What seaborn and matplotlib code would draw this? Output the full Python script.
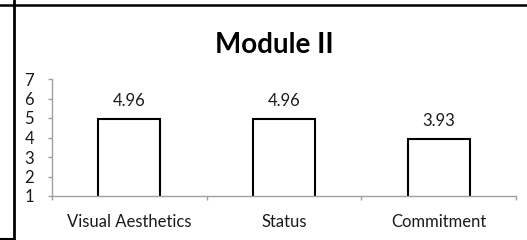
import matplotlib
matplotlib.use("Agg")
import matplotlib.pyplot as plt
import seaborn as sns
import pandas as pd
from matplotlib.lines import Line2D

categories = ["Visual Aesthetics", "Status", "Commitment"]
values = [4.96, 4.96, 3.93]
value_labels = ["4.96", "4.96", "3.93"]
yticks = [1, 2, 3, 4, 5, 6, 7]
title = "Module II"

sns.set_style("white")
plt.rcParams['font.family'] = ['Lato', 'DejaVu Sans']

df = pd.DataFrame({"cat": categories, "val": values})

fig = plt.figure(figsize=(5.27, 2.40), dpi=100)
ax = fig.add_axes([52/527, 1 - 196/240, (516 - 52)/527, (196 - 79)/240])

sns.barplot(data=df, x="cat", y="val", ax=ax, color="white", edgecolor="black",
            linewidth=1.5, width=0.4, saturation=1)

ax.set_ylim(1, 7)
ax.set_xlim(-0.5, 2.5)
ax.set_yticks(yticks)
ax.set_xlabel("")
ax.set_ylabel("")
for s in ["top", "right"]:
    ax.spines[s].set_visible(False)
for s in ["left", "bottom"]:
    ax.spines[s].set_color("#a0a0a0")
    ax.spines[s].set_linewidth(1.0)

ax.tick_params(axis="y", length=3, width=1, color="#a0a0a0", direction="out",
               labelsize=12, pad=10, left=True, labelcolor="#1a1a1a")
ax.set_xticks([0, 1, 2])
ax.set_xticklabels(categories)
ax.tick_params(axis="x", length=0, labelsize=12, pad=13, bottom=False, labelcolor="#1a1a1a")
ax.set_xticks([-0.5, 0.5, 1.5, 2.5], minor=True)
ax.tick_params(axis="x", which="minor", length=3, width=1, color="#a0a0a0",
               direction="out", bottom=True)

for i, (v, lab) in enumerate(zip(values, value_labels)):
    ax.annotate(lab, (i, v), xytext=(0, 7), textcoords="offset points",
                ha="center", va="bottom", fontsize=12, color="#1a1a1a")

fig.text(274/527, 1 - 45/240, title, ha="center", va="center",
         fontsize=20, fontweight="bold", color="black")

# frame lines
fig.add_artist(Line2D([0, 1], [1 - 4.5/240, 1 - 4.5/240], transform=fig.transFigure,
                      color="black", linewidth=1.8))
fig.add_artist(Line2D([13.5/527, 13.5/527], [0, 1], transform=fig.transFigure,
                      color="black", linewidth=2.0))
fig.add_artist(Line2D([0, 13.5/527], [1 - 239/240, 1 - 239/240], transform=fig.transFigure,
                      color="black", linewidth=1.5))

fig.savefig("out.png", dpi=100)
